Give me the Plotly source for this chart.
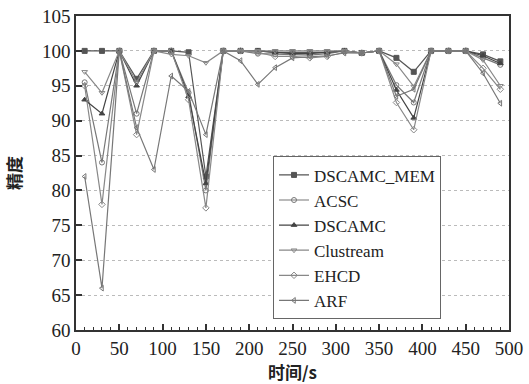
import plotly.graph_objects as go

x_time = [10, 30, 50, 70, 90, 110, 130, 150, 170, 190, 210, 230, 250,
          270, 290, 310, 330, 350, 370, 390, 410, 430, 450, 470, 490]

dscamc_mem = [100, 100, 100, 96, 100, 100, 99.8, 82, 100, 100, 100, 99.8, 99.8,
              99.8, 99.8, 100, 99.7, 100, 99, 97, 100, 100, 100, 99.5, 98.5]
acsc = [95.5, 84, 100, 91, 100, 100, 94, 80, 100, 100, 99.6, 99.5, 99.5,
        99.4, 99.6, 100, 99.7, 100, 95.1, 92.6, 100, 100, 100, 99, 98]
dscamc = [93, 91, 100, 95, 100, 100, 93.5, 81, 100, 100, 100, 99.8, 99.6,
          99.6, 99.8, 100, 99.7, 100, 94.4, 90.4, 100, 100, 100, 99.3, 98.2]
clustream = [97, 94, 100, 95.5, 100, 99.5, 99.3, 98.3, 100, 100, 100, 100, 100,
             100, 100, 100, 99.7, 100, 98.1, 94.9, 100, 100, 100, 98.7, 95]
ehcd = [95, 78, 100, 88, 100, 100, 93, 77.5, 100, 100, 99.8, 99.2, 99.2,
        99, 99.2, 99.8, 99.7, 100, 92.6, 88.7, 100, 100, 100, 97.5, 94.5]
arf = [82, 66, 100, 89, 83, 96.4, 94.2, 88, 100, 98.6, 95.2, 97.6, 99,
       99.2, 99.3, 99.7, 99.7, 100, 93.5, 94.5, 100, 100, 100, 96.8, 92.5]

series_names = ["DSCAMC_MEM", "ACSC", "DSCAMC", "Clustream", "EHCD", "ARF"]
series_values = [dscamc_mem, acsc, dscamc, clustream, ehcd, arf]
symbols = ["square", "circle-open", "triangle-up", "triangle-down-open", "diamond-open", "triangle-left-open"]
colors = ["#555555", "#777777", "#444444", "#888888", "#888888", "#777777"]

x_ticks = [0, 50, 100, 150, 200, 250, 300, 350, 400, 450, 500]
y_ticks = [60, 65, 70, 75, 80, 85, 90, 95, 100, 105]

fig = go.Figure()
for name, vals, sym, col in zip(series_names, series_values, symbols, colors):
    fig.add_trace(go.Scatter(
        x=x_time, y=vals, name=name, mode="lines+markers",
        line=dict(color=col, width=1.2),
        marker=dict(symbol=sym, size=5, color=col, line=dict(color=col, width=1)),
    ))

serif = "Liberation Serif"
cjk = dict(family="Noto Sans CJK SC", size=17, color="#222222", weight="bold")
fig.update_layout(
    width=529, height=384,
    margin=dict(l=76, r=20, t=16, b=54),
    paper_bgcolor="white", plot_bgcolor="white",
    font=dict(family=serif, size=19, color="#222222"),
    showlegend=True,
    legend=dict(
        x=0.455, y=0.553, xanchor="left", yanchor="top",
        bgcolor="white", bordercolor="#666666", borderwidth=1,
        font=dict(family=serif, size=17, color="#222222"),
        tracegroupgap=0, itemsizing="trace",
    ),
    xaxis=dict(
        range=[0, 500], tickvals=x_ticks, ticks="inside", ticklen=6,
        tickcolor="#333333", tickwidth=1.5,
        minor=dict(dtick=10, ticks="inside", ticklen=3, tickcolor="#333333", tickwidth=1, showgrid=False),
        showgrid=False, zeroline=False, automargin=False,
        showline=True, linecolor="#333333", linewidth=1.5, mirror=True,
        title=dict(text="时间/s", font=cjk, standoff=10),
        tickfont=dict(family=serif, size=19),
    ),
    yaxis=dict(
        range=[60, 105], tickvals=y_ticks, ticks="inside", ticklen=6,
        tickcolor="#333333", tickwidth=1.5,
        showgrid=True, gridcolor="#bbbbbb", griddash="dot", gridwidth=1,
        zeroline=False, automargin=False,
        showline=True, linecolor="#333333", linewidth=1.5, mirror=True,
        title=dict(text="精度", font=cjk, standoff=16),
        tickfont=dict(family=serif, size=19),
    ),
)

fig.write_html("out.html")
